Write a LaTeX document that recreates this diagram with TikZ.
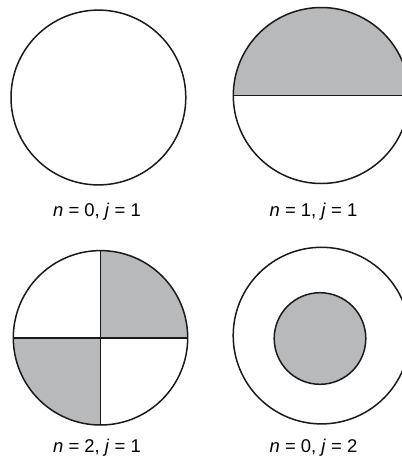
\documentclass[tikz,border=0pt]{standalone}
\usepackage{fontspec}
\setmainfont{Liberation Sans}
\usepackage{tikz}
\usetikzlibrary{calc}
\definecolor{modeGray}{HTML}{B8B9BB}
\definecolor{rimBlack}{HTML}{1A1A1A}

\begin{document}
\begin{tikzpicture}[x=0.02cm,y=-0.02cm,
    rim/.style={draw=rimBlack,line width=0.85pt},
    cut/.style={draw=rimBlack,line width=1.1pt},
    caption/.style={anchor=base,inner sep=0pt,font=\fontsize{10.5}{12}\selectfont}]
  \clip (0,0) rectangle (402,464);
  \fill[white] (0,0) rectangle (402,464);
  % n = 0, j = 1
  \coordinate (ca) at (98.4,97.5);
  \draw[rim] (ca) circle (87.4);
  \node[caption] (la) at (97,216) {\textit{n} = 0, \textit{j} = 1};
  % n = 1, j = 1
  \coordinate (cb) at (321.3,95.5);
  \begin{scope}
    \clip (cb) circle (88);
    \fill[modeGray] ($(cb)+(-90,-90)$) rectangle ($(cb)+(90,0)$);
  \end{scope}
  \draw[cut] ($(cb)+(-88,0)$) coordinate (bw) -- ($(cb)+(88,0)$) coordinate (be);
  \draw[rim] (cb) circle (88);
  \node[caption] (lb) at (313.5,216) {\textit{n} = 1, \textit{j} = 1};
  % n = 2, j = 1
  \coordinate (cc) at (100.5,337.8);
  \begin{scope}
    \clip (cc) circle (87.2);
    \fill[modeGray] (cc) rectangle ($(cc)+(90,-90)$);
    \fill[modeGray] (cc) rectangle ($(cc)+(-90,90)$);
  \end{scope}
  \draw[cut] ($(cc)+(-87.2,0)$) coordinate (cw) -- ($(cc)+(87.2,0)$) coordinate (ce);
  \draw[cut] ($(cc)+(0,-87.2)$) coordinate (cn) -- ($(cc)+(0,87.2)$) coordinate (cs);
  \draw[rim] (cc) circle (87.2);
  \node[caption] (lc) at (97,452.5) {\textit{n} = 2, \textit{j} = 1};
  % n = 0, j = 2
  \coordinate (cd) at (321.5,335.6);
  \coordinate (ci) at (320,338.5);
  \draw[rim] (cd) circle (88.3);
  \draw[rim,fill=modeGray] (ci) circle (45.8);
  \node[caption] (ld) at (313.5,452.5) {\textit{n} = 0, \textit{j} = 2};
\end{tikzpicture}
\end{document}
